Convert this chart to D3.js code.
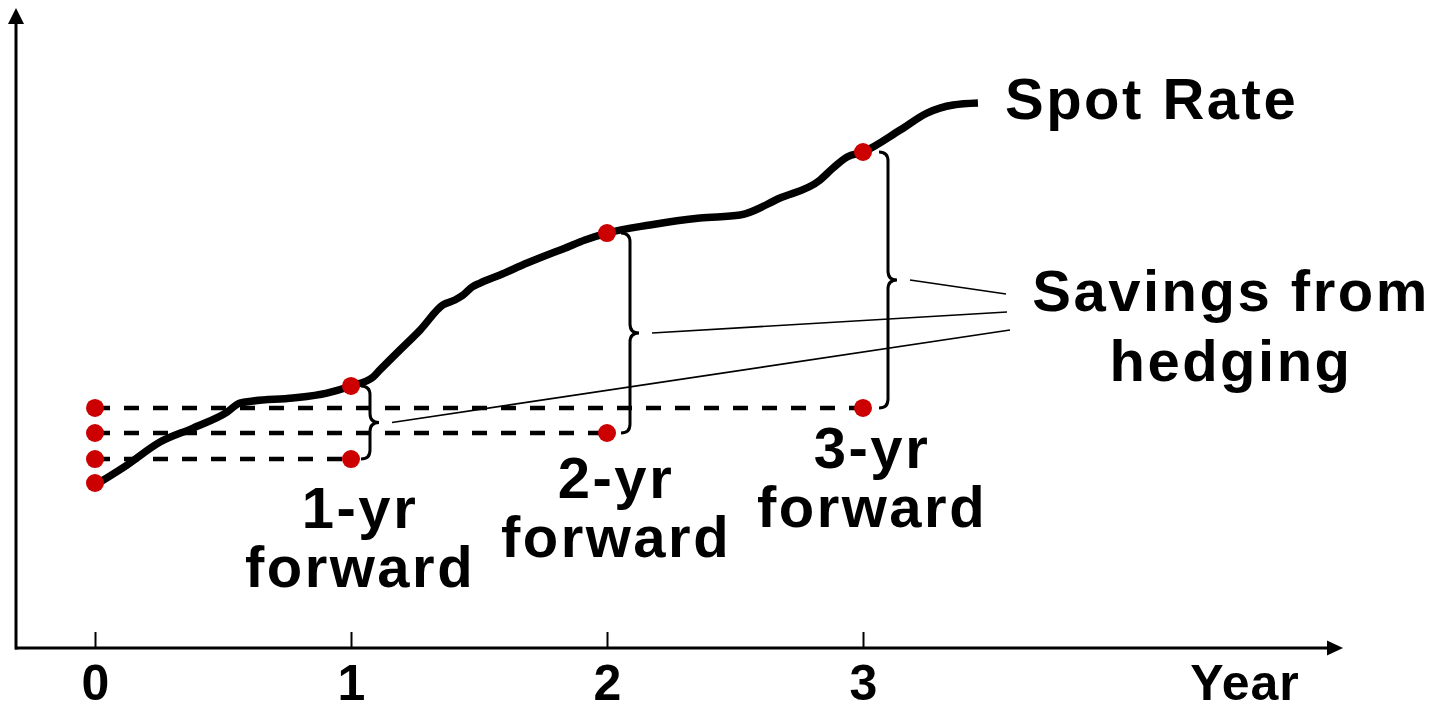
<!DOCTYPE html>
<html>
<head>
<meta charset="utf-8">
<script src="https://cdn.jsdelivr.net/npm/d3@7/dist/d3.min.js"></script>
<style>
  html, body { margin: 0; padding: 0; background: #fff; }
  svg { display: block; }
  text { font-family: "Liberation Sans", Arial, sans-serif; font-weight: bold; fill: #000; }
</style>
</head>
<body>
<svg id="chart" width="1443" height="711"></svg>
<script>
// ---------- data ----------
const years = [0, 1, 2, 3];
const tickLabels = ["0", "1", "2", "3"];
const xAxisTitle = "Year";

// spot rate path (time in years, rate in arbitrary units)
const spotT = [0.020, 0.125, 0.254, 0.383, 0.516, 0.566, 0.617, 0.773, 0.906, 1.000,
               1.086, 1.113, 1.191, 1.270, 1.359, 1.406, 1.438, 1.473, 1.504, 1.582,
               1.688, 1.766, 1.828, 1.914, 2.000, 2.168, 2.363, 2.520, 2.676, 2.832,
               2.883, 2.938, 3.000, 3.145, 3.250, 3.352, 3.449];
const spotV = [1.006, 1.109, 1.248, 1.333, 1.430, 1.485, 1.497, 1.515, 1.545, 1.588,
               1.642, 1.685, 1.806, 1.927, 2.079, 2.109, 2.139, 2.188, 2.212, 2.261,
               2.333, 2.382, 2.418, 2.473, 2.515, 2.564, 2.606, 2.624, 2.727, 2.836,
               2.909, 2.976, 3.006, 3.139, 3.242, 3.291, 3.303];
const spotLabel = "Spot Rate";

const spotAtStart = 1.000;
const spotAtYear = [1.588, 2.515, 3.006];      // spot rate at years 1,2,3
const forwardYears = [1, 2, 3];
const forwardRates = [1.145, 1.303, 1.455];    // 1-,2-,3-yr forward rates locked at year 0
const forwardLabels = [["1-yr", "forward"], ["2-yr", "forward"], ["3-yr", "forward"]];
const savingsLabel = ["Savings from", "hedging"];

// ---------- scales ----------
const svg = d3.select("#chart");
const x = d3.scaleLinear().domain([0, 3]).range([95, 863]);
const y = d3.scaleLinear().domain([0, 4]).range([648, -12]);
const red = "#cc0000";

// ---------- axes ----------
const axisY = 648, axisX = 16;
svg.append("line").attr("x1", 15).attr("x2", 1330).attr("y1", axisY).attr("y2", axisY)
  .attr("stroke", "#000").attr("stroke-width", 3);
svg.append("path").attr("d", `M1343,${axisY} L1327,${axisY - 7.5} L1327,${axisY + 7.5} Z`).attr("fill", "#000");
svg.append("line").attr("x1", axisX).attr("x2", axisX).attr("y1", axisY + 1.5).attr("y2", 22)
  .attr("stroke", "#000").attr("stroke-width", 3);
svg.append("path").attr("d", `M${axisX},8 L${axisX - 8},24 L${axisX + 8},24 Z`).attr("fill", "#000");

const xAxis = d3.axisBottom(x).tickValues(years).tickFormat((d, i) => tickLabels[i])
  .tickSizeInner(-16).tickSizeOuter(0).tickPadding(16.5);
const gx = svg.append("g").attr("transform", `translate(0,${axisY})`).call(xAxis);
gx.select(".domain").remove();
gx.selectAll(".tick line").attr("stroke", "#000").attr("stroke-width", 2);
gx.selectAll(".tick text").attr("font-size", 50).attr("font-family", "Liberation Sans, Arial, sans-serif")
  .attr("font-weight", "bold").attr("fill", "#000");

svg.append("text").attr("x", 1245).attr("y", 700).attr("text-anchor", "middle")
  .attr("font-size", 50).attr("letter-spacing", 1).text(xAxisTitle);

// ---------- dashed forward lines ----------
svg.selectAll("line.fwd").data(forwardYears).join("line").attr("class", "fwd")
  .attr("x1", x(0)).attr("x2", (d) => x(d))
  .attr("y1", (d, i) => y(forwardRates[i])).attr("y2", (d, i) => y(forwardRates[i]))
  .attr("stroke", "#000").attr("stroke-width", 4.5).attr("stroke-dasharray", "15,14");

// ---------- spot curve ----------
const line = d3.line().x((d) => x(d[0])).y((d) => y(d[1])).curve(d3.curveMonotoneX);
svg.append("path").datum(spotT.map((t, i) => [t, spotV[i]]))
  .attr("d", line).attr("fill", "none").attr("stroke", "#000").attr("stroke-width", 7.5);

// ---------- braces ----------
function bracePath(xv, yTop, yBot) {
  const r = 9, ym = (yTop + yBot) / 2;
  return `M${xv - r},${yTop} Q${xv},${yTop} ${xv},${yTop + r} L${xv},${ym - r} ` +
         `Q${xv},${ym} ${xv + r},${ym} Q${xv},${ym} ${xv},${ym + r} ` +
         `L${xv},${yBot - r} Q${xv},${yBot} ${xv - r},${yBot}`;
}
const braceOffsets = [19, 23, 25];
svg.selectAll("path.brace").data(forwardYears).join("path").attr("class", "brace")
  .attr("d", (d, i) => bracePath(x(d) + braceOffsets[i], y(spotAtYear[i]), y(forwardRates[i])))
  .attr("fill", "none").attr("stroke", "#000").attr("stroke-width", 3);

// ---------- leader lines ----------
const leaderEnds = [[1010, 330], [1007, 312], [1006, 294]];
svg.selectAll("line.leader").data(forwardYears).join("line").attr("class", "leader")
  .attr("x1", (d, i) => x(d) + braceOffsets[i] + 22)
  .attr("y1", (d, i) => (y(spotAtYear[i]) + y(forwardRates[i])) / 2)
  .attr("x2", (d, i) => leaderEnds[i][0]).attr("y2", (d, i) => leaderEnds[i][1])
  .attr("stroke", "#000").attr("stroke-width", 1.6);

// ---------- dots ----------
const dots = [[0, spotAtStart]]
  .concat(forwardRates.map((v) => [0, v]))
  .concat(forwardYears.map((t, i) => [t, spotAtYear[i]]))
  .concat(forwardYears.map((t, i) => [t, forwardRates[i]]));
svg.selectAll("circle.dot").data(dots).join("circle").attr("class", "dot")
  .attr("cx", (d) => x(d[0])).attr("cy", (d) => y(d[1])).attr("r", 9).attr("fill", red);

// ---------- labels ----------
const labelFont = 58, labelSpacing = 2.5;
svg.append("text").attr("x", 1005).attr("y", 119).attr("font-size", labelFont)
  .attr("letter-spacing", labelSpacing).text(spotLabel);

const fwdBaselines = [528, 498, 468];
forwardYears.forEach((t, i) => {
  forwardLabels[i].forEach((s, j) => {
    svg.append("text").attr("x", x(t) + 9).attr("y", fwdBaselines[i] + j * 59)
      .attr("text-anchor", "middle").attr("font-size", labelFont)
      .attr("letter-spacing", labelSpacing).text(s);
  });
});

savingsLabel.forEach((s, j) => {
  svg.append("text").attr("x", 1231).attr("y", 311 + j * 70)
    .attr("text-anchor", "middle").attr("font-size", labelFont)
    .attr("letter-spacing", labelSpacing).text(s);
});
</script>
</body>
</html>
